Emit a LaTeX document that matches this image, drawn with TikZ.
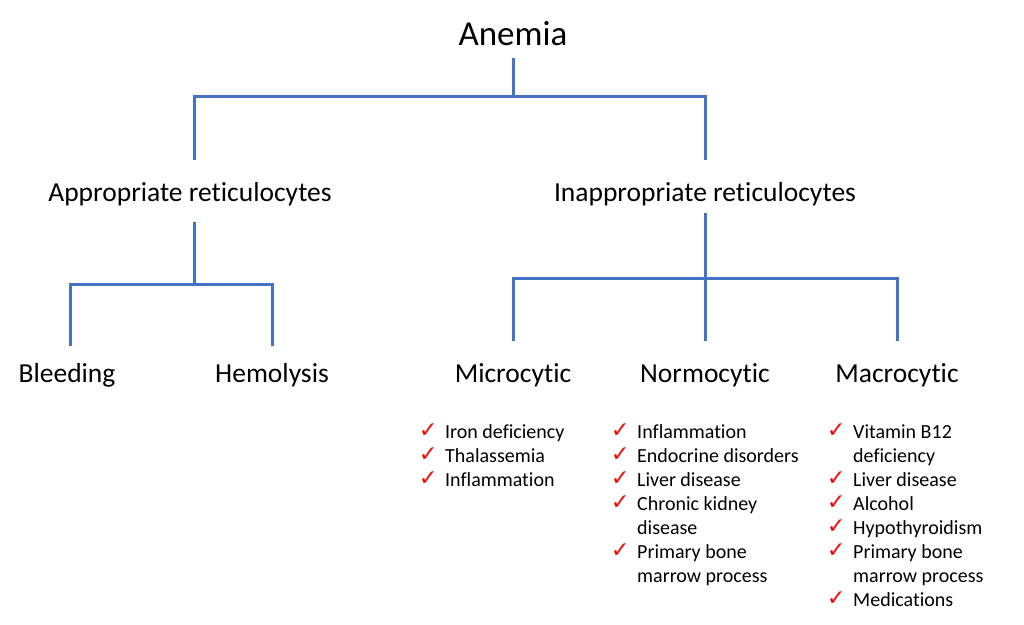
\documentclass[tikz,border=0pt]{standalone}
\usepackage{fontspec}
\setmainfont{Carlito}[Ligatures=NoCommon]
\newfontfamily\checkfont{DejaVu Sans}
\definecolor{branchblue}{HTML}{4472C4}
\newcommand{\ck}{\makebox[26pt][l]{\raisebox{1pt}{\checkfont\fontsize{22}{22}\selectfont\color{red}✓}}}

\begin{document}
\begin{tikzpicture}[x=1pt,y=-1pt,
    branch/.style={draw=branchblue,line width=3pt},
    title/.style={font=\fontsize{35}{40}\selectfont},
    level/.style={font=\fontsize{27.5}{33}\selectfont}]
\useasboundingbox (0,0) rectangle (1024,624);

\begin{scope}[every node/.style={inner sep=0,anchor=base}]
    \node[title] (anemia) at (513,45) {Anemia};
    \node[level] (appr) at (190,201) {Appropriate reticulocytes};
    \node[level] (inappr) at (705,201) {Inappropriate reticulocytes};
    \node[level] (bleed) at (67,382) {Bleeding};
    \node[level] (hemo) at (272,382) {Hemolysis};
    \node[level] (micro) at (513,382) {Microcytic};
    \node[level] (normo) at (705,382) {Normocytic};
    \node[level] (macro) at (897,382) {Macrocytic};
\end{scope}

\begin{scope}[every node/.style={inner sep=0,anchor=base west,font=\fontsize{20}{24}\selectfont}]
    \node (microlist) at (419,438) {\begin{tabular}[t]{@{}l@{}l@{}}
        \ck & Iron deficiency\\
        \ck & Thalassemia\\
        \ck & Inflammation
    \end{tabular}};
    \node (normolist) at (611,438) {\begin{tabular}[t]{@{}l@{}l@{}}
        \ck & Inflammation\\
        \ck & Endocrine disorders\\
        \ck & Liver disease\\
        \ck & Chronic kidney\\
            & disease\\
        \ck & Primary bone\\
            & marrow process
    \end{tabular}};
    \node (macrolist) at (827,438) {\begin{tabular}[t]{@{}l@{}l@{}}
        \ck & Vitamin B12\\
            & deficiency\\
        \ck & Liver disease\\
        \ck & Alcohol\\
        \ck & Hypothyroidism\\
        \ck & Primary bone\\
            & marrow process\\
        \ck & Medications
    \end{tabular}};
\end{scope}

% forks of the tree
\coordinate (fork1) at (513,96);
\coordinate (fork2) at (194,284);
\coordinate (fork3) at (705,278);

\draw[branch] ([yshift=-13pt]anemia.base) -- (fork1);
\draw[branch] ([xshift=4pt,yshift=41pt]appr.base) |- (fork1) -| ([yshift=41pt]inappr.base);
\draw[branch] ([xshift=4pt,yshift=-21pt]appr.base) -- (fork2);
\draw[branch] ([xshift=3pt,yshift=36pt]bleed.base) |- (fork2) -| ([yshift=36pt]hemo.base);
\draw[branch] ([yshift=-12pt]inappr.base) -- (fork3);
\draw[branch] ([yshift=41pt]micro.base) |- (fork3) -| ([yshift=41pt]macro.base);
\draw[branch] (fork3) -- ([yshift=41pt]normo.base);
\end{tikzpicture}
\end{document}
